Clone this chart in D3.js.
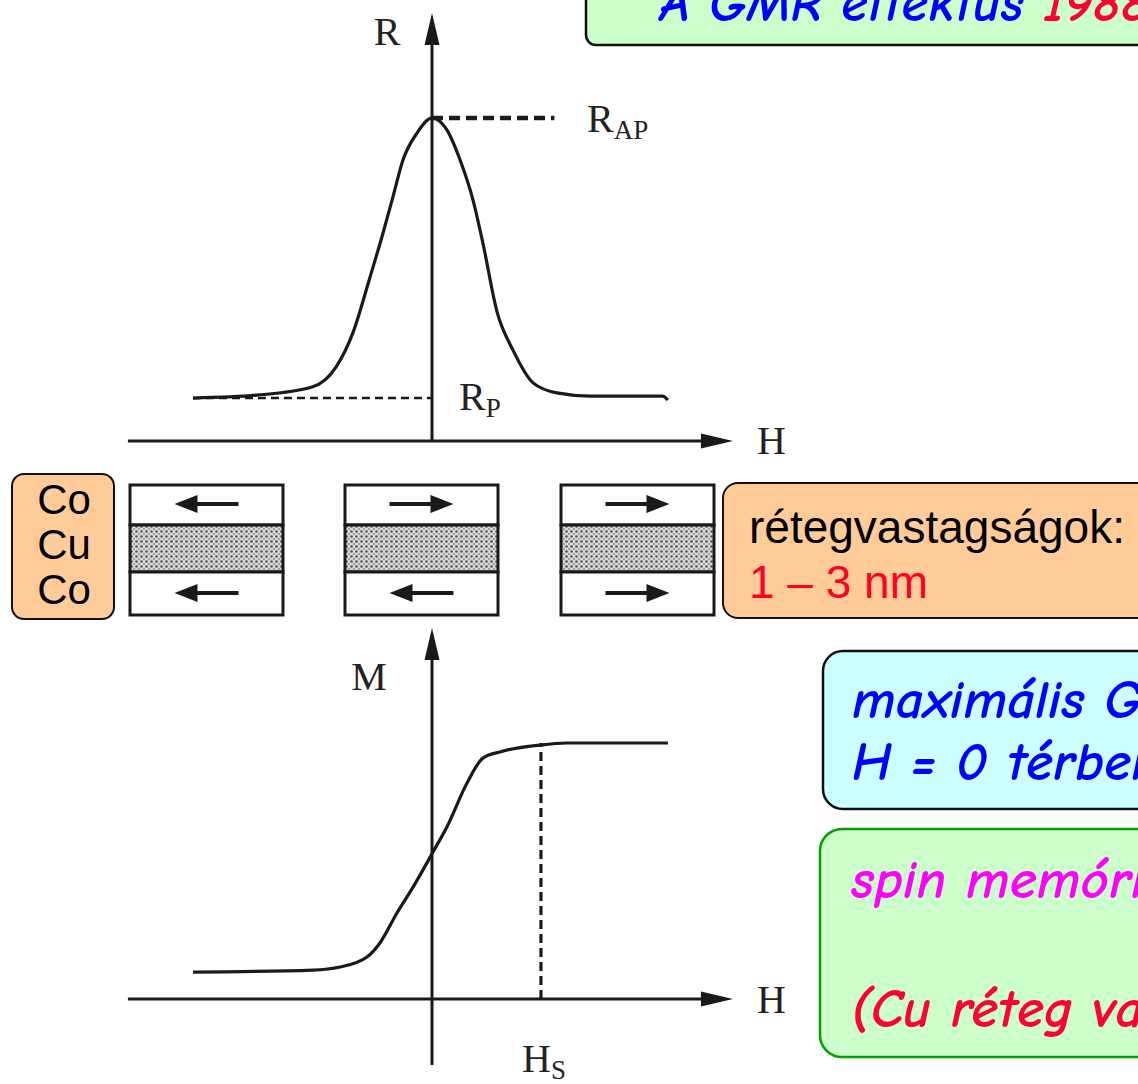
<!DOCTYPE html>
<html lang="hu">
<head>
<meta charset="UTF-8">
<title>GMR effektus</title>
<script src="https://d3js.org/d3.v7.min.js"></script>
<style>
    body { margin: 0; background: #fff; }
    .serif { font-family: "Liberation Serif", "Times New Roman", serif; fill: #222; }
    .comic { font-family: "Comic Sans MS", "Comic Neue", "DejaVu Sans", sans-serif; font-style: italic; font-weight: bold; }
    .sans { font-family: Arial, "Liberation Sans", sans-serif; }
</style>
</head>
<body>
<svg width="1138" height="1084"></svg>
<script>
// R(H) curve: field (arbitrary units) and resistance (R_AP = 1)
const rH   = [-0.996, -0.73, -0.50, -0.40, -0.33, -0.258, -0.204, -0.163, -0.121, -0.062, 0,
              0.062, 0.117, 0.171, 0.212, 0.271, 0.337, 0.421, 0.52, 0.66, 0.96, 0.983];
const rVal = [0.133, 0.142, 0.167, 0.229, 0.334, 0.508, 0.644, 0.755, 0.87, 0.954, 1,
              0.963, 0.87, 0.746, 0.613, 0.40, 0.282, 0.18, 0.149, 0.139, 0.139, 0.127];
// M(H) curve: magnetisation (saturation = 1)
const mH   = [-0.996, -0.496, -0.383, -0.271, -0.217, -0.146, -0.079, 0.004, 0.062, 0.146, 0.212, 0.283, 0.45, 0.562, 0.983];
const mVal = [0.105, 0.113, 0.125, 0.164, 0.219, 0.336, 0.437, 0.574, 0.672, 0.844, 0.941, 0.965, 0.992, 1, 1];
const rAP = 1, rP = 0.133, hS = 0.454;
// layer stacks: magnetisation direction of top / bottom Co layer (-1 = left, 1 = right)
const stackLabels = ["Co", "Cu", "Co"];
const topSpin = [-1, 1, 1];
const bottomSpin = [-1, -1, 1];

const svg = d3.select("svg");
const defs = svg.append("defs");

const x = d3.scaleLinear().domain([-1, 1]).range([192, 672]);
const yR = d3.scaleLinear().domain([0, 1]).range([441, 118]);
const yM = d3.scaleLinear().domain([0, 1]).range([999, 743]);

// dotted copper texture
const pat = defs.append("pattern").attr("id", "cu").attr("width", 5).attr("height", 5)
    .attr("patternUnits", "userSpaceOnUse");
pat.append("rect").attr("width", 5).attr("height", 5).attr("fill", "#d8d8d8");
pat.append("circle").attr("cx", 1.5).attr("cy", 1.5).attr("r", 1.3).attr("fill", "#555");
pat.append("circle").attr("cx", 4).attr("cy", 4).attr("r", 0.9).attr("fill", "#888");

function arrowAxis(x1, y1, x2, y2) {
    // line with a filled triangular head at (x2, y2)
    const len = 32, half = 7.5;
    const ang = Math.atan2(y2 - y1, x2 - x1);
    const bx = x2 - len * Math.cos(ang), by = y2 - len * Math.sin(ang);
    svg.append("line").attr("x1", x1).attr("y1", y1).attr("x2", bx).attr("y2", by)
        .attr("stroke", "#1a1a1a").attr("stroke-width", 3);
    const px = -Math.sin(ang) * half, py = Math.cos(ang) * half;
    svg.append("path")
        .attr("d", `M${x2},${y2}L${bx + px},${by + py}L${bx - px},${by - py}Z`)
        .attr("fill", "#1a1a1a");
}

const line = d3.line().curve(d3.curveMonotoneX);

// ---- upper panel: R(H)
arrowAxis(x(-1.267), yR(0), x(1.254), yR(0));
arrowAxis(x(0), yR(0), x(0), yR(1.325));
svg.append("line").attr("x1", x(0)).attr("x2", x(0.51)).attr("y1", yR(rAP)).attr("y2", yR(rAP))
    .attr("stroke", "#1a1a1a").attr("stroke-width", 4.5).attr("stroke-dasharray", "11,6");
svg.append("line").attr("x1", x(-0.996)).attr("x2", x(0)).attr("y1", yR(rP)).attr("y2", yR(rP))
    .attr("stroke", "#1a1a1a").attr("stroke-width", 2.5).attr("stroke-dasharray", "8,5");
svg.append("path").attr("d", line(rH.map((h, i) => [x(h), yR(rVal[i])])))
    .attr("fill", "none").attr("stroke", "#1a1a1a").attr("stroke-width", 3.2);

svg.append("text").attr("class", "serif").attr("x", 387).attr("y", 45).attr("font-size", 40)
    .attr("text-anchor", "middle").text("R");
svg.append("text").attr("class", "serif").attr("x", 757).attr("y", 454).attr("font-size", 40).text("H");
const rap = svg.append("text").attr("class", "serif").attr("x", 587).attr("y", 132).attr("font-size", 40);
rap.append("tspan").text("R");
rap.append("tspan").attr("font-size", 27).attr("dy", 7).text("AP");
const rp = svg.append("text").attr("class", "serif").attr("x", 459).attr("y", 410).attr("font-size", 40);
rp.append("tspan").text("R");
rp.append("tspan").attr("font-size", 27).attr("dy", 7).text("P");

// ---- layer stacks
const stackX = [130, 345, 561], bw = 153;
stackX.forEach((sx, i) => {
    const g = svg.append("g");
    g.append("rect").attr("x", sx).attr("y", 485).attr("width", bw).attr("height", 40)
        .attr("fill", "#fff").attr("stroke", "#1a1a1a").attr("stroke-width", 3);
    g.append("rect").attr("x", sx).attr("y", 525).attr("width", bw).attr("height", 47)
        .attr("fill", "url(#cu)").attr("stroke", "#1a1a1a").attr("stroke-width", 3);
    g.append("rect").attr("x", sx).attr("y", 572).attr("width", bw).attr("height", 43)
        .attr("fill", "#fff").attr("stroke", "#1a1a1a").attr("stroke-width", 3);
    [[topSpin[i], 504], [bottomSpin[i], 593]].forEach(([d, yy]) => {
        const cx = sx + bw / 2;
        const tip = cx + d * 32, tail = cx - d * 32;
        g.append("line").attr("x1", tail).attr("x2", tip - d * 20).attr("y1", yy).attr("y2", yy)
            .attr("stroke", "#1a1a1a").attr("stroke-width", 4);
        g.append("path").attr("d", `M${tip},${yy}L${tip - d * 23},${yy - 9}L${tip - d * 23},${yy + 9}Z`)
            .attr("fill", "#1a1a1a");
    });
});

svg.append("rect").attr("x", 12).attr("y", 474).attr("width", 102).attr("height", 145).attr("rx", 12)
    .attr("fill", "#ffcc99").attr("stroke", "#111").attr("stroke-width", 2);
stackLabels.forEach((t, i) => {
    svg.append("text").attr("class", "sans").attr("x", 64).attr("y", 514 + i * 45)
        .attr("font-size", 42).attr("text-anchor", "middle").attr("fill", "#000").text(t);
});

// ---- lower panel: M(H)
arrowAxis(x(-1.267), yM(0), x(1.254), yM(0));
arrowAxis(x(0), yM(-0.258), x(0), yM(1.449));
svg.append("line").attr("x1", x(hS)).attr("x2", x(hS)).attr("y1", yM(0)).attr("y2", yM(1))
    .attr("stroke", "#1a1a1a").attr("stroke-width", 3.2).attr("stroke-dasharray", "9,5");
svg.append("path").attr("d", line(mH.map((h, i) => [x(h), yM(mVal[i])])))
    .attr("fill", "none").attr("stroke", "#1a1a1a").attr("stroke-width", 3.2);
svg.append("text").attr("class", "serif").attr("x", 369).attr("y", 690).attr("font-size", 40)
    .attr("text-anchor", "middle").text("M");
svg.append("text").attr("class", "serif").attr("x", 757).attr("y", 1013).attr("font-size", 40).text("H");
const hs = svg.append("text").attr("class", "serif").attr("x", 522).attr("y", 1072).attr("font-size", 40);
hs.append("tspan").text("H");
hs.append("tspan").attr("font-size", 27).attr("dy", 7).text("S");

// ---- text boxes
svg.append("rect").attr("x", 586).attr("y", -30).attr("width", 600).attr("height", 75).attr("rx", 10)
    .attr("fill", "#ccffcc").attr("stroke", "#111").attr("stroke-width", 2.5);
const title = svg.append("text").attr("class", "comic").attr("x", 660).attr("y", 21).attr("font-size", 54);
title.append("tspan").attr("fill", "#0000ff").text("A GMR effektus ");
title.append("tspan").attr("fill", "#ff0033").text("1988");

svg.append("rect").attr("x", 723).attr("y", 483).attr("width", 500).attr("height", 135).attr("rx", 15)
    .attr("fill", "#ffcc99").attr("stroke", "#111").attr("stroke-width", 2);
svg.append("text").attr("class", "sans").attr("x", 749).attr("y", 543).attr("font-size", 46)
    .attr("fill", "#000").text("rétegvastagságok:");
svg.append("text").attr("class", "sans").attr("x", 749).attr("y", 598).attr("font-size", 46)
    .attr("fill", "#ff0022").text("1 – 3 nm");

svg.append("rect").attr("x", 823).attr("y", 651).attr("width", 400).attr("height", 158).attr("rx", 20)
    .attr("fill", "#ccffff").attr("stroke", "#111").attr("stroke-width", 2.5);
svg.append("text").attr("class", "comic").attr("x", 852).attr("y", 718).attr("font-size", 55)
    .attr("fill", "#0000ff").text("maximális GMR");
svg.append("text").attr("class", "comic").attr("x", 852).attr("y", 780).attr("font-size", 55)
    .attr("fill", "#0000ff").text("H = 0 térben");

svg.append("rect").attr("x", 820).attr("y", 829).attr("width", 400).attr("height", 228).attr("rx", 22)
    .attr("fill", "#ccffcc").attr("stroke", "#00a000").attr("stroke-width", 2.5);
svg.append("text").attr("class", "comic").attr("x", 851).attr("y", 898).attr("font-size", 55)
    .attr("fill", "#ff00ff").text("spin memória");
svg.append("text").attr("class", "comic").attr("x", 851).attr("y", 1027).attr("font-size", 55)
    .attr("fill", "#ff0033").text("(Cu réteg vastagság)");
</script>
</body>
</html>
